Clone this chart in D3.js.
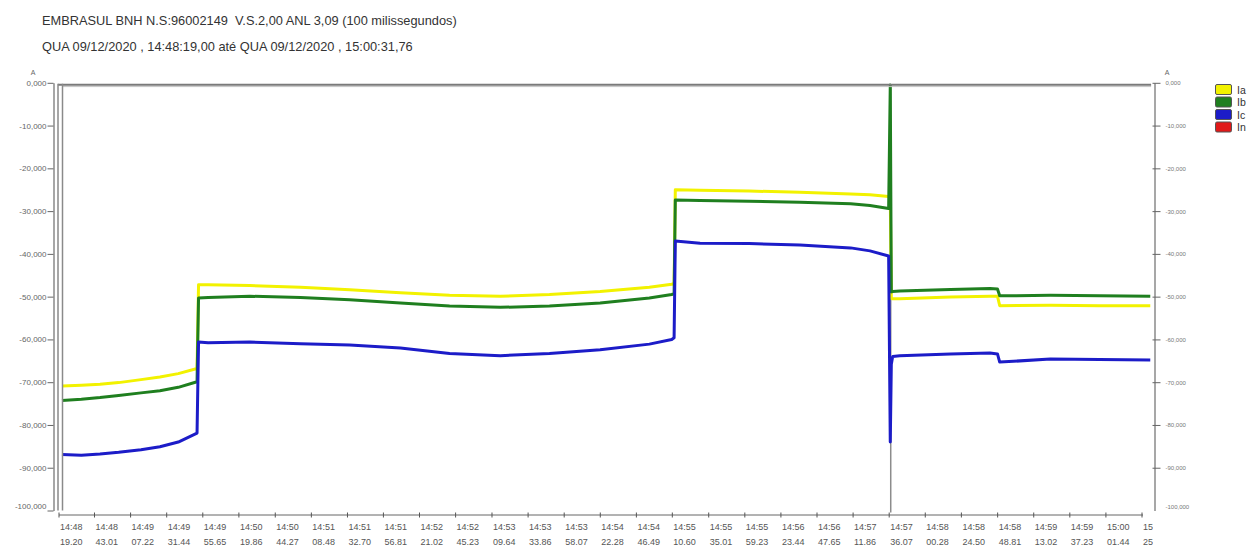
<!DOCTYPE html>
<html>
<head>
<meta charset="utf-8">
<script src="https://cdn.jsdelivr.net/npm/d3@7"></script>
<style>
    body { margin: 0; background: #fff; }
    svg { display: block; font-family: "Liberation Sans", Arial, sans-serif; }
    .title { white-space: pre; }
</style>
</head>
<body>
<div id="chart"></div>
<script>
const titleLines = [
    "EMBRASUL BNH N.S:96002149  V.S.2,00 ANL 3,09 (100 milissegundos)",
    "QUA 09/12/2020 , 14:48:19,00 até QUA 09/12/2020 , 15:00:31,76"
];
const startTime = "14:48 19.20";
const endSeconds = 732.56;

const tickLabels = [
    "14:48 19.20", "14:48 43.01", "14:49 07.22", "14:49 31.44", "14:49 55.65",
    "14:50 19.86", "14:50 44.27", "14:51 08.48", "14:51 32.70", "14:51 56.81",
    "14:52 21.02", "14:52 45.23", "14:53 09.64", "14:53 33.86", "14:53 58.07",
    "14:54 22.28", "14:54 46.49", "14:55 10.60", "14:55 35.01", "14:55 59.23",
    "14:56 23.44", "14:56 47.65", "14:57 11.86", "14:57 36.07", "14:58 00.28",
    "14:58 24.50", "14:58 48.81", "14:59 13.02", "14:59 37.23", "15:00 01.44",
    "15:00 25.65"
];
const yTicks = [0, -10, -20, -30, -40, -50, -60, -70, -80, -90, -100];

const seriesNames = ["Ia", "Ib", "Ic", "In"];
const seriesColors = ["#f2f200", "#1f7f1f", "#1c1cc8", "#e01818"];

// seconds after 14:48:19,20
const timeSec = [
    2, 15, 27.5, 40, 55, 67.7, 80, 92.6, 93.6, 100, 128, 162, 195, 229, 262, 296,
    329, 363, 396, 411, 412.6, 413.4, 430, 463, 497, 531, 544, 556.5, 557.6, 558.3,
    559.2, 564, 598, 624.5, 629.5, 631, 665, 698, 732
];
const valuesIa = [
    -70.9, -70.7, -70.5, -70.1, -69.4, -68.8, -68.0, -66.8, -47.2, -47.2, -47.4, -47.8, -48.4, -49.1, -49.7, -49.9,
    -49.5, -48.8, -47.8, -47.1, -46.9, -25.0, -25.1, -25.3, -25.6, -26.0, -26.2, -26.6, -26.6, -50.4,
    -50.5, -50.5, -50.1, -49.9, -49.9, -52.1, -52.0, -52.1, -52.1
];
const valuesIb = [
    -74.3, -74.0, -73.6, -73.1, -72.5, -72.0, -71.2, -69.9, -50.3, -50.2, -49.9, -50.2, -50.7, -51.5, -52.2, -52.5,
    -52.2, -51.5, -50.3, -49.5, -49.3, -27.4, -27.5, -27.7, -27.9, -28.3, -28.7, -29.4, -0.5, -48.9,
    -48.8, -48.7, -48.3, -48.1, -48.2, -49.8, -49.7, -49.8, -49.9
];
const valuesIc = [
    -86.9, -87.1, -86.8, -86.4, -85.8, -85.1, -84.0, -81.9, -60.6, -60.8, -60.6, -61.0, -61.3, -62.0, -63.3, -63.8,
    -63.3, -62.4, -61.1, -60.0, -59.6, -37.0, -37.5, -37.6, -37.9, -38.6, -39.3, -40.5, -84.0, -65.8,
    -64.0, -63.8, -63.4, -63.2, -63.4, -65.3, -64.6, -64.7, -64.8
];
const eventTimes = [557.9];

const width = 1259, height = 553;

const parseLabel = function (s) {
    const p = s.split(/[ :]/);
    return (+p[0]) * 3600 + (+p[1]) * 60 + (+p[2]);
};
const t0 = parseLabel(startTime);
const tickTimes = tickLabels.map(d => parseLabel(d) - t0);

const x = d3.scaleLinear()
    .domain([0, tickTimes[tickTimes.length - 1]])
    .range([59, 1142]);
const y = d3.scaleLinear()
    .domain([-100, 0])
    .range([510.5, 82.8]);

const fmt = d3.formatLocale({ decimal: ",", thousands: ".", grouping: [3], currency: ["", ""], minus: "-" })
    .format(".3f");

const svg = d3.select("#chart")
    .append("svg")
    .attr("width", width)
    .attr("height", height);

svg.selectAll("text.title")
    .data(titleLines)
    .enter().append("text")
    .attr("class", "title")
    .attr("x", 42)
    .attr("y", (d, i) => 25 + i * 26)
    .attr("font-size", 12.8)
    .attr("fill", "#333")
    .text(d => d);

const plotLeft = x(0) - 1, plotRight = x(endSeconds), plotTop = y(0) + 2, plotBottom = y(-100);

// series (In has no visible samples)
const series = [valuesIa, valuesIb, valuesIc];
const line = d3.line()
    .x((d, i) => x(timeSec[i]))
    .y(d => y(d));

svg.selectAll("line.event")
    .data(eventTimes)
    .enter().append("line")
    .attr("class", "event")
    .attr("x1", d => x(d)).attr("x2", d => x(d))
    .attr("y1", plotTop).attr("y2", plotBottom + 2)
    .attr("stroke", "#8c8c8c")
    .attr("stroke-width", 1.5);

svg.selectAll("path.series")
    .data(series)
    .enter().append("path")
    .attr("class", "series")
    .attr("d", d => line(d))
    .attr("fill", "none")
    .attr("stroke", (d, i) => seriesColors[i])
    .attr("stroke-width", 3)
    .attr("stroke-linejoin", "round");

// plot frame
svg.append("line")
    .attr("x1", plotLeft).attr("x2", plotRight)
    .attr("y1", plotTop).attr("y2", plotTop)
    .attr("stroke", "#7a7a7a").attr("stroke-width", 2);
svg.append("line")
    .attr("x1", plotLeft + 4).attr("x2", plotRight)
    .attr("y1", plotTop + 1.8).attr("y2", plotTop + 1.8)
    .attr("stroke", "#c4c4c4").attr("stroke-width", 1);
[plotLeft, plotLeft + 4.5].forEach(function (px) {
    svg.append("line")
        .attr("x1", px).attr("x2", px)
        .attr("y1", plotTop - 1).attr("y2", plotBottom)
        .attr("stroke", "#8a8a8a").attr("stroke-width", 1.5);
});

// left axis
const leftAxis = svg.append("g")
    .attr("transform", "translate(53.5,0)")
    .call(d3.axisLeft(y).tickValues(yTicks).tickFormat(fmt).tickSize(6).tickSizeOuter(0));
leftAxis.select(".domain").attr("stroke", "#8a8a8a").attr("stroke-width", 1.5);
leftAxis.selectAll(".tick line").attr("stroke", "#666");
leftAxis.selectAll(".tick text")
    .attr("font-size", 8)
    .attr("font-family", "Liberation Sans, Arial, sans-serif")
    .attr("fill", "#666")
    .attr("x", -7);
leftAxis.selectAll(".tick").filter(d => d === -100).select("text").attr("dy", "-0.3em");
svg.append("text")
    .attr("x", 33).attr("y", 75)
    .attr("text-anchor", "middle")
    .attr("font-size", 7).attr("fill", "#666")
    .text("A");

// right axis
const rightAxis = svg.append("g")
    .attr("transform", "translate(1154.5,0)")
    .call(d3.axisRight(y).tickValues(yTicks).tickFormat(fmt).tickSize(6).tickSizeOuter(0));
rightAxis.select(".domain").attr("stroke", "#8a8a8a").attr("stroke-width", 1.5);
rightAxis.selectAll(".tick line").attr("stroke", "#666").attr("x1", -2);
rightAxis.selectAll(".tick").filter(d => d === -100).select("line").remove();
rightAxis.selectAll(".tick text")
    .attr("font-size", 6)
    .attr("font-family", "Liberation Sans, Arial, sans-serif")
    .attr("fill", "#777")
    .attr("x", 11);
rightAxis.selectAll(".tick").filter(d => d === -100).select("text").attr("dy", "-0.4em");
svg.append("text")
    .attr("x", 1167).attr("y", 75)
    .attr("text-anchor", "middle")
    .attr("font-size", 7).attr("fill", "#666")
    .text("A");

// time axis
svg.append("clipPath").attr("id", "xclip")
    .append("rect").attr("x", 0).attr("y", 500).attr("width", 1153).attr("height", 53);
const xAxisY = 515;
const xAxis = svg.append("g").attr("clip-path", "url(#xclip)");
xAxis.append("line")
    .attr("x1", x(0)).attr("x2", x(tickTimes[tickTimes.length - 1]) + 1)
    .attr("y1", xAxisY).attr("y2", xAxisY)
    .attr("stroke", "#666").attr("stroke-width", 1);
const xt = xAxis.selectAll("g.xtick")
    .data(tickTimes)
    .enter().append("g")
    .attr("class", "xtick")
    .attr("transform", d => "translate(" + x(d) + "," + xAxisY + ")");
xt.append("line")
    .attr("y1", -2.5).attr("y2", 2.5)
    .attr("stroke", "#555");
const xtText = xt.append("text")
    .attr("font-size", 9)
    .attr("fill", "#555");
xtText.append("tspan")
    .attr("x", 1).attr("y", 15)
    .text((d, i) => tickLabels[i].split(" ")[0]);
xtText.append("tspan")
    .attr("x", 1).attr("y", 30)
    .text((d, i) => tickLabels[i].split(" ")[1]);

// legend
const legend = svg.selectAll("g.legend")
    .data(seriesNames)
    .enter().append("g")
    .attr("class", "legend")
    .attr("transform", (d, i) => "translate(1215," + (84 + i * 12.5) + ")");
legend.append("rect")
    .attr("x", 0.5).attr("y", 0.5)
    .attr("width", 16).attr("height", 10)
    .attr("rx", 1.5)
    .attr("fill", (d, i) => seriesColors[i])
    .attr("stroke", "#555");
legend.append("text")
    .attr("x", 22).attr("y", 9.5)
    .attr("font-size", 10.5)
    .attr("fill", "#333")
    .text(d => d);
</script>
</body>
</html>
